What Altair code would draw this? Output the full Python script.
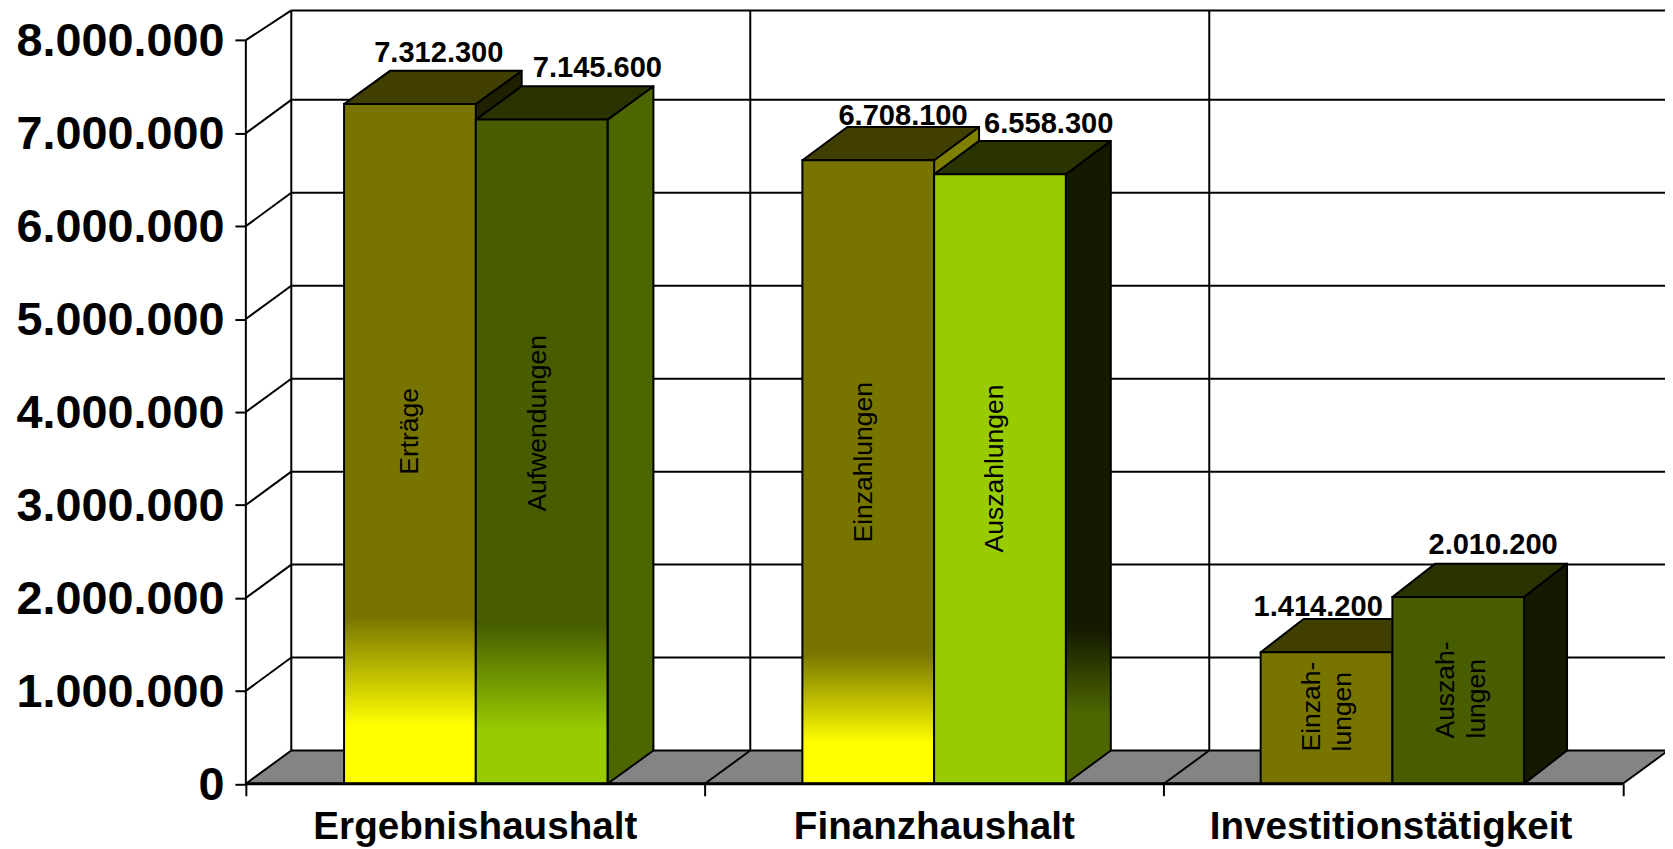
import altair as alt
import pandas as pd

# ---- data ----
groups = ["Ergebnishaushalt", "Finanzhaushalt", "Investitionstätigkeit"]
inner = ["Erträge", "Aufwendungen", "Einzahlungen", "Auszahlungen", ["Einzah-", "lungen"], ["Auszah-", "lungen"]]
values = [7312300, 7145600, 6708100, 6558300, 1414200, 2010200]
y_ticks = [0, 1000000, 2000000, 3000000, 4000000, 5000000, 6000000, 7000000, 8000000]
x_ticks = [0, 1, 2, 3]

# ---- geometry of the pseudo-3D box, in axis units ----
W, H = 1665, 841
X0, Y0 = 247, 785.5        # page position of the front corner
PX_X, PX_Y = 461.2, 93.4e-6
DX, DY = 0.099, 358000     # box depth
BAR_W = 0.287
BAR_CENTER = [0.501, 1.4995, 2.498]
BAR_DX = [0.1, 0.098, 0.0935]
XDOM = [-(X0 - 8) / PX_X, (W - (X0 - 8)) / PX_X]
YDOM = [-(H - (Y0 - 8)) / PX_Y, (Y0 - 8) / PX_Y]
FONT = "Liberation Sans"

xs = alt.Scale(domain=XDOM, nice=False, zero=False)
ys = alt.Scale(domain=YDOM, nice=False, zero=False)
AX_Y = alt.Axis(values=y_ticks, offset=-(X0 - 8), domain=False, grid=False, tickSize=11, tickWidth=2,
                tickColor="black", labelFont=FONT, labelFontSize=47, labelFontWeight="bold", labelColor="black",
                labelPadding=11, labelOverlap=False, labelBound=False, labelFlush=False, title=None, labelLimit=400,
                labelOffset=1.5,
                labelExpr="replace(format(datum.value, ','), regexp(',', 'g'), '.')")
AX_X = alt.Axis(values=x_ticks, offset=-(H - (Y0 - 8)), domain=False, grid=False, labels=False,
                tickSize=12, tickWidth=2, tickColor="black", title=None)
X = lambda f="x": alt.X(f"{f}:Q", scale=xs, axis=AX_X)
Y = lambda f="y": alt.Y(f"{f}:Q", scale=ys, axis=AX_Y)


def grad(c1, c2, a, b):
    return alt.Gradient(gradient="linear", x1=0, y1=0, x2=0, y2=1, stops=[
        alt.GradientStop(color=c1, offset=0), alt.GradientStop(color=c1, offset=a),
        alt.GradientStop(color=c2, offset=b), alt.GradientStop(color=c2, offset=1)])


OLIVE, YEL, DGREEN, LIME = "#777500", "#ffff00", "#475d00", "#99cc00"
front = [grad(OLIVE, YEL, .755, .915), grad(DGREEN, LIME, .76, .92),
         grad(OLIVE, YEL, .79, .935), LIME, OLIVE, DGREEN]
top = ["#403f00", "#293300", "#403f00", "#293300", "#403f00", "#293300"]
side = ["#1f2000", "#4d6600", "#808000", grad("#141a00", "#4d6600", .76, .89), "#403f00", "#141a00"]


def area(rows, fill):
    d = pd.DataFrame(rows, columns=["x", "y", "y2"])
    return alt.Chart(d).mark_area(color=fill, stroke="black", strokeWidth=2, strokeJoin="round").encode(
        x=X(), y=Y(), y2="y2:Q")


def rules(rows, sw=2):
    d = pd.DataFrame(rows, columns=["x", "x2", "y", "y2"])
    return alt.Chart(d).mark_rule(color="black", strokeWidth=sw).encode(x=X(), x2="x2:Q", y=Y(), y2="y2:Q")


layers = []
TOP = YDOM[1] - 4000

# left wall + back wall grid
back_grid = [v for v in y_ticks if v > 0]
layers.append(rules([[DX, 3 + DX, v + DY, v + DY] for v in back_grid]))
layers.append(rules([[0, DX, v, min(v + DY, TOP)] for v in back_grid]))
layers.append(rules([[t + DX, t + DX, DY, TOP] for t in x_ticks]))
layers.append(rules([[0, 0, 0, 8000000]]))
layers.append(rules([[DX, 3 + DX, TOP, TOP]]))

# floor
layers.append(area([[0, 0, 0], [DX, DY, 0], [3, DY, 0], [3 + DX, DY, DY]], "#848484"))
layers.append(rules([[t, t + DX, 0, DY] for t in x_ticks[1:3]]))

# bars: each pair drawn left to right so the right bar hides the left bar's side
for i, v in enumerate(values):
    g = i // 2
    c = BAR_CENTER[g]
    L, R = (c - BAR_W, c) if i % 2 == 0 else (c, c + BAR_W)
    d = BAR_DX[g]
    layers.append(area([[R, v, 0], [R + d, v + DY, DY]], side[i]))
    layers.append(area([[L, v, v], [L + d, v + DY, v], [R, v + DY, v], [R + d, v + DY, v + DY]], top[i]))
    layers.append(alt.Chart(pd.DataFrame([{"x": L, "x2": R, "y": v, "y2": 0}])).mark_rect(
        color=front[i], stroke="black", strokeWidth=2).encode(x=X(), x2="x2:Q", y=Y(), y2="y2:Q"))

layers.append(rules([[0, 3, 0, 0]], sw=3))

# value labels: horizontal shift (px from bar centre) and lift (px above bar top)
label_dx = [29, 56, 35, 49, -8.4, 35]
label_lift = [42.6, 43, 35, 41, 36.7, 43]
rows = []
for i, v in enumerate(values):
    g = i // 2
    c = BAR_CENTER[g] + (-BAR_W / 2 if i % 2 == 0 else BAR_W / 2)
    rows.append({"x": c + label_dx[i] / PX_X, "y": v + label_lift[i] / PX_Y,
                 "t": f"{v:,}".replace(",", ".")})
layers.append(alt.Chart(pd.DataFrame(rows)).mark_text(
    font=FONT, fontSize=29.2, fontWeight="bold", color="black", align="center", baseline="alphabetic"
).encode(x=X(), y=Y(), text="t:N"))

# labels inside the bars: (x in axis units, start of text in value units)
inner_pos = [[(411.7, 475)], [(540.7, 512)], [(868.3, 543)], [(999.8, 553)],
             [(1318.3, 753), (1349.2, 753)], [(1452.8, 740), (1484.3, 740)]]
rows = []
for lines, pos in zip(inner, inner_pos):
    lines = [lines] if isinstance(lines, str) else lines
    for t, (px, py) in zip(lines, pos):
        rows.append({"x": (px - X0) / PX_X, "y": (Y0 - py) / PX_Y, "t": t})
layers.append(alt.Chart(pd.DataFrame(rows)).mark_text(
    font=FONT, fontSize=26.6, color="black", align="left", baseline="middle", angle=270
).encode(x=X(), y=Y(), text="t:N"))

# category labels
cat = pd.DataFrame({"x": [0.5, 1.5, 2.495], "y": [(Y0 - 841) / PX_Y] * 3, "t": groups})
layers.append(alt.Chart(cat).mark_text(
    font=FONT, fontSize=38.8, fontWeight="bold", color="black", align="center", baseline="alphabetic"
).encode(x=X(), y=Y(), text="t:N"))

chart = alt.layer(*layers).properties(
    width=W, height=H, padding=0, background="white",
    autosize=alt.AutoSizeParams(type="none"),
).configure_view(strokeWidth=0)

chart.save("out.html", embed_options={"renderer": "svg", "actions": False})
